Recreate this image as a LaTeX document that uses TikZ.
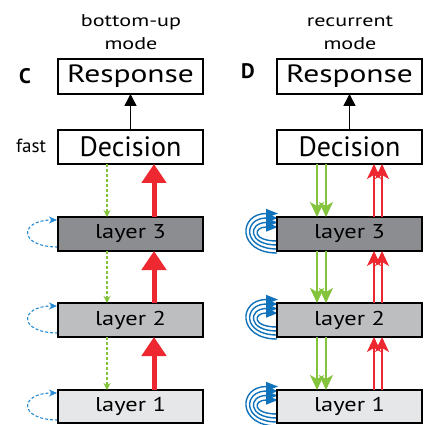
\documentclass[tikz,border=0pt]{standalone}
\usepackage{fontspec}
\setmainfont{PT Sans}
\usetikzlibrary{arrows.meta}
\pgfdeclarelayer{background}
\pgfsetlayers{background,main}
\definecolor{redA}{RGB}{237,40,48}
\definecolor{greenA}{RGB}{132,196,60}
\definecolor{blueL}{RGB}{40,140,212}
\definecolor{blueR}{RGB}{16,114,186}
\definecolor{grayD}{RGB}{139,141,144}
\definecolor{grayM}{RGB}{188,190,192}
\definecolor{grayL}{RGB}{230,231,232}
\newcommand{\wide}[2]{\scalebox{#1}[1]{#2}}
\begin{document}
\begin{tikzpicture}[x=1pt,y=-1pt,
  box/.style={draw=black, line width=1.4pt, inner sep=0pt, outer sep=0pt,
    minimum width=145pt, minimum height=34pt, fill=white},
  bigtxt/.style={font=\fontsize{25}{28}\selectfont},
  dectxt/.style={font=\fontsize{28}{31}\selectfont},
  laytxt/.style={font=\fontsize{20}{22}\selectfont},
  ttl/.style={font=\fontsize{17}{23}\selectfont, align=center},
  lbl/.style={font=\fontsize{21}{24}\selectfont\bfseries},
  blk/.style={draw=black, line width=1.5pt, -{Triangle[length=12pt,width=12pt]}},
  redthick/.style={draw=redA, line width=5pt, -{Triangle[length=19pt,width=24pt]}},
  greendash/.style={draw=greenA, line width=1.2pt, dash pattern=on 3pt off 2pt, -{Stealth[length=7pt,width=7pt]}},
  greendbl/.style={draw=greenA, line width=1.6pt, -{Stealth[length=15pt,width=14pt,inset=4pt]}},
  reddbl/.style={draw=redA, line width=1.6pt, -{Stealth[length=15pt,width=14pt,inset=4pt]}},
  blueloop/.style={draw=blueL, line width=1.1pt, dash pattern=on 3pt off 2pt, -{Stealth[length=8pt,width=7pt]}},
  bluerec/.style={draw=blueR, line width=1.4pt, -{Triangle[length=12pt,width=9pt]}}
]
\useasboundingbox (0,0) rectangle (426,425);

% titles and labels
\node[ttl] (tL) at (131,32.5) {\wide{1.3}{bottom-up}\\\wide{1.3}{mode}};
\node[ttl] (tR) at (350,32.5) {\wide{1.3}{recurrent}\\\wide{1.3}{mode}};
\node[lbl] (C) at (25,76) {C};
\node[lbl] (D) at (248,71) {D};
\node[font=\fontsize{19}{22}\selectfont] (fast) at (31,146) {fast};

% left panel
\node[box, minimum height=35pt, bigtxt] (rL) at (130.5,76.5) {\wide{1.26}{Response}};
\node[box, dectxt] (dL) at (130.5,147) {Decision};
\node[box, fill=grayD, laytxt] (l3) at (130.5,234) {\wide{1.22}{layer 3}};
\node[box, fill=grayM, laytxt] (l2) at (130.5,320) {\wide{1.22}{layer 2}};
\node[box, fill=grayL, minimum height=33pt, laytxt] (l1) at (130.5,406.5) {\wide{1.22}{layer 1}};

% right panel
\node[box, minimum height=35pt, bigtxt] (rR) at (349.5,76.5) {\wide{1.26}{Response}};
\node[box, dectxt] (dR) at (349.5,147) {Decision};
\node[box, fill=grayD, laytxt] (r3) at (349.5,234) {\wide{1.22}{layer 3}};
\node[box, fill=grayM, laytxt] (r2) at (349.5,320) {\wide{1.22}{layer 2}};
\node[box, fill=grayL, minimum height=33pt, laytxt] (r1) at (349.5,406.5) {\wide{1.22}{layer 1}};

% decision -> response
\draw[blk] (dL.north) -- (rL.south);
\draw[blk] (dR.north) -- (rR.south);

% left: feedforward and dashed feedback
\draw[redthick] ([xshift=23.5pt]l3.north) -- ([xshift=23.5pt]dL.south);
\draw[redthick] ([xshift=23.5pt]l2.north) -- ([xshift=23.5pt]l3.south);
\draw[redthick] ([xshift=23.5pt]l1.north) -- ([xshift=23.5pt]l2.south);
\draw[greendash] ([xshift=-23.5pt]dL.south) -- ([xshift=-23.5pt]l3.north);
\draw[greendash] ([xshift=-23.5pt]l3.south) -- ([xshift=-23.5pt]l2.north);
\draw[greendash] ([xshift=-23.5pt]l2.south) -- ([xshift=-23.5pt]l1.north);

% right: double arrows
\foreach \dx in {-32.5,-23.5} {
  \draw[greendbl] ([xshift=\dx pt]dR.south) -- ([xshift=\dx pt]r3.north);
  \draw[greendbl] ([xshift=\dx pt]r3.south) -- ([xshift=\dx pt]r2.north);
  \draw[greendbl] ([xshift=\dx pt]r2.south) -- ([xshift=\dx pt]r1.north);
}
\foreach \dx in {24.5,32.5} {
  \draw[reddbl] ([xshift=\dx pt]r3.north) -- ([xshift=\dx pt]dR.south);
  \draw[reddbl] ([xshift=\dx pt]r2.north) -- ([xshift=\dx pt]r3.south);
  \draw[reddbl] ([xshift=\dx pt]r1.north) -- ([xshift=\dx pt]r2.south);
}

% self loops
\begin{pgfonlayer}{background}
\foreach \n in {l3,l2,l1} {
  \draw[blueloop] ([yshift=-30pt]\n.north west) .. controls +(-40,0) and +(-38,0) .. ([xshift=-1pt,yshift=-3pt]\n.north west);
}
\foreach \n in {r3,r2,r1} {
  \foreach \k in {0,1,2,3} {
    \pgfmathsetmacro\yb{-(24+4*\k)}
    \pgfmathsetmacro\yt{-(10-4.5*\k)}
    \pgfmathsetmacro\cx{-(25+5*\k)}
    \draw[bluerec] ([yshift=\yb pt]\n.north west) .. controls +(\cx,0) and +(\cx,0) .. ([xshift=1pt,yshift=\yt pt]\n.north west);
  }
}
\end{pgfonlayer}
\end{tikzpicture}
\end{document}
